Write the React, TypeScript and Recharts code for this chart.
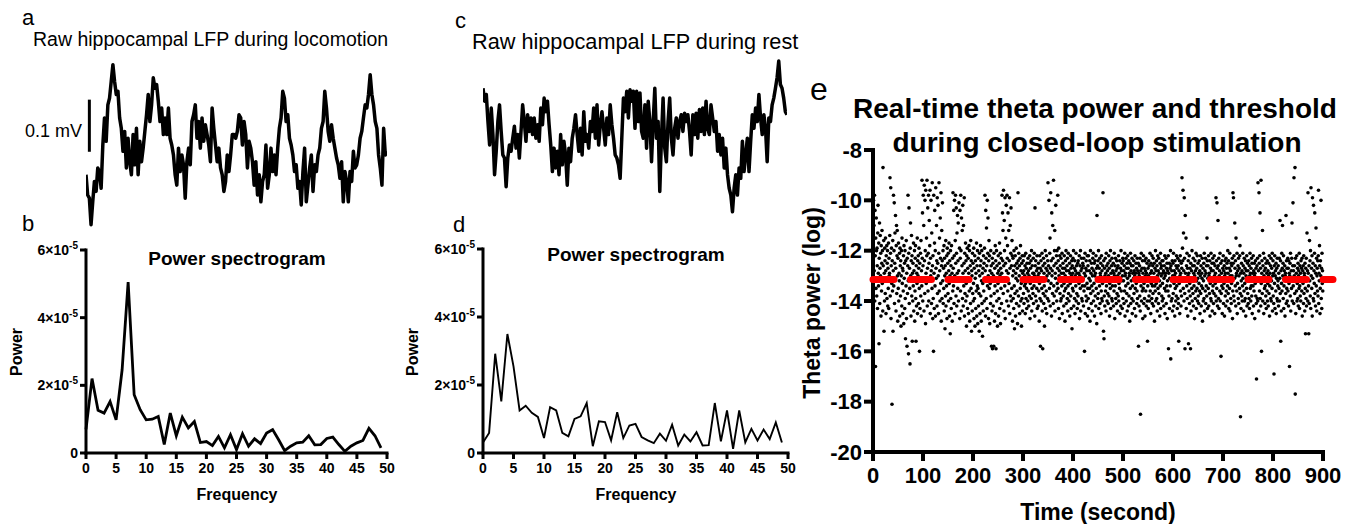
import React from "react";
import { LineChart, Line, XAxis, YAxis, ScatterChart, Scatter, ReferenceLine } from "recharts";

const FONT = "'Liberation Sans', Arial, Helvetica, sans-serif";

// Panel a / c: raw LFP traces (microvolts, relative), one value per sample
const lfpLocomotionUv = [
  58, 19, 13, -38, 6, 45, 26, 71, 64, 32,
  115, 167, 122, 192, 205, 237, 269, 237, 212, 218,
  167, 147, 103, 141, 71, 128, 83, 58, 135, 77,
  147, 58, 122, 83, 109, 141, 173, 212, 160, 192,
  244, 224, 231, 199, 160, 186, 135, 167, 135, 186,
  128, 115, 96, 58, 38, 109, 64, 96, 77, 13,
  83, 109, 77, 160, 173, 192, 128, 160, 109, 167,
  122, 154, 135, 115, 83, 186, 147, 115, 83, 109,
  71, 58, 26, 45, 96, 64, 96, 135, 135, 128, 141,
  173, 167, 115, 160, 135, 71, 122, 109, 83, 38,
  83, 19, 58, 6, 45, 58, 115, 32, 58, 109,
  64, 96, 58, 109, 147, 167, 218, 205, 160, 173,
  128, 115, 96, 64, 77, 32, 45, 0, 64, 109,
  6, 38, 71, 96, 26, 77, 64, 96, 109, 147,
  160, 218, 186, 141, 122, 154, 128, 109, 90, 77,
  51, 83, 6, 64, 45, 6, 64, 45, 103, 71,
  77, 96, 128, 141, 167, 192, 186, 212, 250, 212,
  192, 160, 147, 96, 71, 38, 147, 96, 103,
];

const lfpRestUv = [
  224, 199, 212, 160, 115, 186, 135, 58, 103, 160,
  192, 141, 96, 90, 35, 90, 115, 103, 128, 151,
  109, 135, 90, 141, 192, 160, 122, 173, 141, 167,
  135, 167, 128, 154, 122, 186, 154, 205, 179, 199,
  154, 115, 64, 109, 71, 103, 58, 135, 77, 122,
  96, 38, 109, 83, 128, 147, 173, 135, 103, 147,
  96, 179, 122, 135, 109, 160, 141, 186, 128, 192,
  115, 154, 179, 147, 115, 167, 135, 192, 154, 128,
  96, 90, 77, 51, 128, 205, 179, 218, 167, 221,
  199, 218, 147,
  218, 160, 215, 141, 128, 192, 109, 199, 160, 83,
  160, 224, 128, 160, 26, 128, 205, 109, 83, 160,
  205, 128, 96, 147, 167, 128, 160, 173, 141, 176,
  160, 173, 141, 96, 173, 135, 176, 128, 183, 141,
  186, 135, 199, 147, 135, 192, 167, 141, 160, 103,
  135, 96, 128, 71, 109, 58, 32, 19, -13, 32,
  58, 19, 71, 51, 122, 64, 96, 128, 64, 122,
  173, 147, 186, 160, 212, 167, 135, 173, 147, 83,
  167, 160, 192, 205, 224, 244, 276, 231, 224, 205,
  179, 173,
];

// Panel b / d: power spectra (units of 1e-5)
const frequencyHz = [
  0, 1, 2, 3, 4, 5, 6, 7, 8, 9, 10, 11, 12, 13, 14, 15, 16, 17, 18, 19, 20, 21, 22, 23, 24,
  25, 26, 27, 28, 29, 30, 31, 32, 33, 34, 35, 36, 37, 38, 39, 40, 41, 42, 43, 44, 45, 46, 47, 48, 49,
];
const powerLocomotionE5 = [
  0.7, 2.2, 1.26, 1.18, 1.52, 0.98, 2.46, 5.05, 1.72, 1.28,
  0.98, 1.0, 1.08, 0.25, 1.18, 0.51, 1.06, 0.74, 0.93, 0.31,
  0.34, 0.22, 0.49, 0.15, 0.54, 0.1, 0.57, 0.2, 0.42, 0.28,
  0.59, 0.69, 0.39, 0.07, 0.2, 0.3, 0.32, 0.51, 0.24, 0.25,
  0.43, 0.47, 0.25, 0.05, 0.2, 0.3, 0.37, 0.73, 0.51, 0.15,
];
const powerRestE5 = [
  0.31, 0.59, 2.92, 1.52, 3.5, 2.55, 1.25, 1.39, 1.18, 1.06,
  0.44, 1.35, 1.25, 0.59, 0.49, 1.0, 1.08, 1.47, 0.2, 0.93,
  0.91, 0.37, 1.2, 0.44, 0.81, 0.86, 0.47, 0.37, 0.29, 0.57,
  0.36, 0.83, 0.22, 0.54, 0.34, 0.61, 0.22, 0.23, 1.47, 0.34,
  1.25, 0.12, 1.25, 0.31, 0.71, 0.37, 0.69, 0.41, 0.9, 0.31,
];
const frequencyTicks = [0, 5, 10, 15, 20, 25, 30, 35, 40, 45, 50];
const powerTicksE5 = [0, 2, 4, 6];

// Panel e: real-time theta power (log), one sample every 0.5 s
const thetaSampleIntervalSec = 0.5;
const thetaPowerLog = [
  -9.6,-12.4,-10.0,-13.1,-11.0,-12.8,-9.8,-14.0,-10.4,-12.2,-16.6,-11.5,-13.5,-10.7,-12.0,-13.8,-11.9,-12.6,-14.3,-11.3,
  -10.2,-12.9,-13.4,-11.7,-15.7,-12.3,-10.9,-14.1,-12.7,-11.4,-13.0,-12.1,-14.6,-11.8,-13.6,-12.5,-11.2,-13.3,-12.0,-14.4,
  -8.7,-12.6,-13.2,-11.6,-15.2,-12.9,-14.0,-11.9,-12.4,-13.7,-11.5,-12.8,-14.5,-12.2,-13.1,-11.8,-13.9,-12.5,-12.0,-14.2,
  -12.7,-13.5,-11.7,-14.3,-12.3,-13.0,-12.9,-11.4,-9.1,-13.8,-12.1,-9.5,-14.7,-12.6,-11.9,-13.3,-18.1,-12.4,-13.6,-11.6,
  -15.2,-12.8,-9.8,-13.4,-12.0,-10.1,-14.1,-12.5,-11.3,-13.1,-10.6,-12.7,-14.4,-11.8,-11.0,-13.7,-12.2,-11.2,-13.0,-14.8,
  -12.3,-13.5,-11.7,-14.0,-12.9,-13.2,-12.1,-14.6,-11.9,-12.6,-13.8,-12.4,-15.0,-13.0,-12.0,-14.2,-11.5,-13.3,-12.7,-14.5,
  -12.8,-13.6,-12.2,-14.9,-11.8,-13.1,-12.5,-14.3,-12.0,-13.9,-15.5,-12.4,-13.4,-11.6,-14.7,-12.9,-15.8,-12.3,-13.7,-12.6,
  -9.8,-13.2,-16.1,-12.1,-10.3,-14.1,-12.7,-13.5,-16.5,-11.9,-10.9,-13.0,-14.6,-12.4,-11.4,-13.8,-12.2,-15.6,-12.9,-14.0,
  -12.5,-13.4,-11.7,-14.4,-12.8,-13.1,-12.0,-14.8,-13.6,-12.3,-11.8,-13.9,-15.6,-12.6,-14.2,-12.9,-13.3,-11.5,-14.5,-12.4,
  -13.0,-12.2,-14.1,-12.7,-11.9,-13.5,-16.0,-12.5,-14.3,-13.2,-12.1,-13.8,-11.6,-14.6,-12.8,-13.4,-9.2,-12.3,-10.5,-14.0,
  -12.6,-9.8,-13.1,-11.0,-14.4,-9.4,-12.4,-13.7,-10.0,-12.0,-14.9,-9.6,-12.9,-13.3,-11.5,-12.2,-9.2,-14.2,-12.7,-10.3,
  -13.6,-12.1,-9.8,-14.0,-12.5,-10.8,-13.2,-11.8,-9.6,-14.5,-12.3,-13.0,-10.0,-12.8,-14.1,-11.3,-13.5,-9.3,-12.6,-14.7,
  -12.2,-13.9,-16.0,-9.8,-12.9,-14.3,-11.7,-10.4,-13.4,-12.0,-14.6,-9.5,-12.7,-13.1,-11.0,-12.4,-14.2,-9.9,-13.7,-12.5,
  -10.2,-13.0,-14.5,-12.1,-9.3,-13.6,-11.5,-12.8,-14.0,-10.7,-12.3,-13.3,-9.7,-14.8,-12.6,-11.2,-13.9,-12.4,-10.1,-13.2,
  -12.0,-14.1,-12.7,-13.5,-11.8,-14.4,-12.3,-13.0,-15.1,-12.6,-13.8,-11.6,-14.2,-12.9,-13.4,-12.2,-14.7,-11.9,-13.1,-12.5,
  -13.7,-12.1,-14.0,-12.8,-11.7,-13.3,-14.6,-12.4,-13.0,-15.3,-12.0,-13.9,-12.6,-14.3,-11.8,-13.2,-12.9,-14.8,-12.3,-13.6,
  -9.7,-12.7,-13.4,-10.4,-14.1,-12.2,-10.0,-13.0,-14.5,-11.6,-9.8,-12.5,-13.8,-10.3,-12.1,-14.2,-11.3,-12.9,-10.6,-13.5,
  -12.4,-10.9,-14.0,-12.8,-10.1,-13.1,-11.9,-14.7,-10.4,-12.3,-13.6,-9.8,-12.0,-14.4,-10.7,-13.2,-12.6,-11.2,-13.9,-10.2,
  -12.9,-14.2,-11.0,-13.4,-12.5,-9.9,-14.6,-12.1,-13.7,-12.8,-11.7,-14.0,-12.4,-13.3,-15.0,-12.2,-13.8,-11.9,-14.3,-12.7,
  -13.1,-12.3,-14.5,-12.9,-11.8,-13.6,-12.0,-14.8,-13.2,-12.6,-14.1,-11.6,-13.5,-12.4,-15.2,-12.8,-13.0,-14.4,-12.1,-13.7,
  -12.5,-14.0,-13.3,-11.9,-14.7,-12.7,-13.9,-12.2,-15.0,-13.1,-12.4,-14.3,-12.9,-13.6,-11.7,-14.6,-12.6,-13.4,-12.0,-14.9,
  -13.5,-12.3,-14.2,-12.8,-13.7,-15.2,-12.1,-13.0,-14.5,-12.6,-11.8,-13.8,-12.4,-14.8,-13.2,-12.0,-14.1,-12.9,-15.4,-13.3,
  -12.7,-14.4,-12.2,-13.6,-12.5,-14.0,-11.9,-13.1,-9.8,-12.8,-14.6,-10.4,-12.3,-13.9,-11.1,-12.6,-14.3,-10.0,-13.4,-12.1,
  -10.7,-13.0,-14.7,-12.4,-11.6,-13.5,-12.2,-14.9,-12.8,-13.3,-14.1,-12.0,-13.8,-12.6,-15.8,-12.9,-14.4,-12.3,-15.9,-13.2,
  -12.5,-14.2,-13.0,-15.8,-12.1,-13.7,-14.8,-12.7,-13.4,-11.8,-14.5,-12.4,-15.9,-13.1,-12.0,-14.0,-12.6,-13.6,-15.0,-12.9,
  -13.3,-12.2,-14.6,-12.8,-13.9,-12.5,-11.7,-14.3,-13.0,-12.1,-14.9,-12.7,-13.5,-12.3,-14.1,-12.9,-9.8,-13.2,-10.5,-12.4,
  -11.2,-13.7,-9.6,-12.6,-14.4,-10.8,-12.0,-13.4,-9.9,-14.7,-12.5,-11.5,-13.1,-10.2,-12.8,-14.0,-9.8,-12.3,-11.8,-13.6,
  -10.5,-12.9,-14.2,-11.2,-13.3,-12.4,-9.9,-14.5,-12.7,-11.0,-13.8,-12.1,-10.3,-14.0,-12.6,-13.5,-11.6,-12.2,-14.8,-13.0,
  -12.3,-13.9,-12.8,-14.3,-12.0,-13.4,-15.1,-12.6,-13.7,-12.2,-14.6,-12.9,-13.1,-11.9,-14.1,-12.5,-13.6,-12.7,-14.9,-13.2,
  -9.7,-12.4,-13.8,-12.1,-14.2,-13.0,-12.6,-14.5,-12.3,-13.5,-11.8,-14.0,-12.8,-13.3,-15.0,-12.5,-13.9,-12.2,-14.4,-12.9,
  -13.1,-12.4,-13.7,-12.8,-14.1,-12.2,-13.4,-13.0,-12.6,-14.5,-13.3,-12.1,-13.9,-12.7,-13.5,-14.3,-12.5,-13.2,-12.9,-14.0,
  -12.3,-13.6,-12.8,-14.2,-13.0,-12.5,-13.8,-12.2,-14.7,-13.3,-12.7,-13.1,-12.4,-13.9,-12.0,-14.4,-13.5,-12.6,-13.2,-12.9,
  -13.7,-12.3,-14.1,-12.9,-13.4,-12.1,-13.0,-14.6,-10.3,-12.6,-13.8,-12.4,-13.2,-14.0,-12.8,-13.5,-12.2,-14.3,-13.1,-12.7,
  -13.0,-14.2,-12.5,-13.6,-12.9,-14.8,-13.3,-12.2,-13.9,-12.7,-15.8,-13.1,-12.4,-14.0,-12.8,-13.5,-12.1,-14.4,-13.2,-15.9,
  -12.6,-13.7,-12.3,-14.1,-12.9,-13.4,-15.0,-12.5,-13.8,-12.0,-14.3,-13.1,-12.7,-13.6,-12.2,-14.5,-13.0,-12.8,-13.9,-12.4,
  -9.3,-13.2,-12.6,-14.0,-10.0,-12.9,-13.5,-12.1,-11.5,-14.2,-12.7,-9.7,-13.3,-12.4,-14.6,-10.5,-13.0,-12.8,-13.7,-11.0,
  -12.3,-14.1,-9.2,-13.4,-12.6,-13.8,-12.0,-11.2,-14.4,-12.9,-13.1,-10.2,-12.5,-13.6,-12.2,-14.0,-12.0,-13.3,-12.7,-9.8,
  -13.5,-12.4,-14.3,-11.9,-13.0,-12.8,-14.7,-12.2,-13.7,-12.6,-13.2,-14.0,-12.3,-13.9,-12.9,-13.4,-12.1,-14.5,-13.1,-12.7,
  -12.5,-13.8,-12.9,-14.2,-13.3,-12.2,-13.6,-12.7,-14.8,-13.0,-12.4,-13.5,-12.0,-14.1,-12.8,-13.2,-12.6,-13.9,-12.3,-14.4,
  -13.4,-12.1,-13.7,-12.8,-14.0,-13.1,-12.5,-14.6,-12.9,-13.3,-12.2,-13.8,-12.7,-14.3,-13.0,-12.4,-15.1,-12.6,-13.5,-12.9,
  -12.3,-13.6,-12.0,-14.2,-13.2,-12.7,-13.9,-12.4,-14.5,-13.0,-12.8,-13.4,-12.1,-14.0,-12.6,-13.7,-12.9,-14.3,-13.1,-12.5,
  -13.8,-12.4,-14.1,-12.9,-13.3,-12.2,-14.7,-13.0,-12.6,-13.5,-12.0,-14.4,-12.8,-13.2,-12.3,-13.9,-12.7,-14.0,-13.4,-12.5,
  -13.1,-12.6,-14.2,-12.3,-13.6,-12.9,-16.0,-13.4,-12.1,-14.5,-13.0,-12.7,-13.8,-12.4,-14.0,-12.8,-13.3,-12.2,-14.6,-13.5,
  -12.6,-13.9,-12.2,-14.3,-13.1,-12.8,-13.5,-12.4,-14.8,-13.2,-12.0,-13.7,-12.9,-14.1,-12.5,-13.4,-12.7,-14.4,-13.0,-12.3,
  -13.6,-12.1,-14.0,-12.8,-13.3,-12.5,-14.6,-13.0,-12.4,-13.8,-12.9,-14.2,-12.2,-13.5,-12.7,-14.9,-10.6,-13.1,-12.6,-13.9,
  -12.4,-13.7,-12.0,-14.3,-13.2,-12.7,-13.4,-12.3,-14.1,-12.9,-13.0,-12.5,-14.5,-13.6,-12.2,-13.9,-12.8,-14.0,-13.3,-12.6,
  -9.7,-13.1,-15.2,-12.4,-15.5,-13.8,-12.7,-14.2,-13.0,-12.3,-13.6,-12.9,-14.4,-12.1,-13.4,-12.6,-14.0,-13.2,-12.8,-13.7,
  -12.5,-14.1,-13.0,-12.2,-13.8,-12.7,-14.6,-13.3,-12.4,-13.5,-12.0,-14.3,-12.9,-13.1,-12.6,-13.9,-12.3,-14.0,-13.4,-12.8,
  -13.2,-12.5,-14.2,-12.9,-13.6,-12.1,-13.0,-14.7,-12.6,-13.4,-12.3,-13.9,-12.8,-14.1,-13.1,-12.4,-13.7,-12.7,-14.4,-13.0,
  -12.6,-13.8,-12.2,-14.0,-13.3,-12.9,-13.5,-12.4,-14.5,-13.1,-12.7,-14.2,-12.0,-13.6,-12.8,-13.2,-12.5,-14.3,-13.0,-12.3,
  -13.9,-12.4,-13.2,-12.8,-14.1,-12.6,-13.6,-12.1,-14.6,-13.0,-12.9,-13.4,-12.3,-14.0,-12.7,-13.7,-12.5,-14.4,-13.1,-12.2,
  -13.3,-12.7,-14.2,-12.4,-13.8,-12.9,-13.0,-14.8,-12.5,-13.5,-12.1,-14.1,-12.8,-13.2,-12.6,-13.9,-12.3,-14.5,-13.4,-12.9,
  -12.6,-14.0,-13.1,-12.4,-13.7,-12.8,-14.3,-13.0,-12.2,-13.5,-12.9,-14.6,-12.5,-13.3,-12.7,-14.1,-13.6,-12.3,-13.9,-12.8,
  -13.2,-12.5,-15.8,-12.9,-14.2,-13.0,-12.6,-13.8,-12.3,-14.4,-18.5,-12.8,-13.4,-12.1,-14.0,-13.1,-12.7,-13.6,-12.4,-14.7,
  -12.9,-13.5,-12.2,-14.1,-13.3,-12.7,-13.9,-12.4,-14.6,-13.0,-12.8,-13.6,-12.3,-14.2,-12.9,-13.1,-12.5,-14.0,-15.6,-13.4,
  -12.7,-14.3,-13.0,-12.4,-13.8,-12.6,-14.0,-13.2,-12.1,-13.6,-12.9,-14.5,-12.5,-13.3,-12.8,-13.9,-12.2,-14.1,-13.4,-12.6,
  -13.7,-12.3,-14.2,-12.9,-13.1,-12.5,-14.8,-13.4,-12.7,-13.6,-12.0,-14.0,-12.8,-13.3,-12.4,-13.9,-12.6,-14.4,-13.0,-12.2,
  -13.5,-12.8,-14.1,-12.3,-13.7,-12.9,-13.2,-14.6,-12.5,-13.4,-12.1,-14.3,-12.7,-13.0,-12.6,-13.8,-12.4,-14.0,-13.3,-12.9,
  -12.4,-13.9,-12.8,-14.2,-13.1,-12.6,-13.5,-12.2,-14.5,-13.0,-12.9,-13.6,-12.3,-14.1,-12.7,-13.4,-12.5,-14.7,-13.2,-12.8,
  -13.6,-12.2,-15.9,-12.9,-13.8,-12.5,-14.3,-13.1,-12.7,-13.4,-12.0,-16.3,-12.6,-14.0,-13.2,-12.8,-13.9,-12.4,-14.4,-13.0,
  -12.5,-13.7,-12.1,-14.2,-13.3,-12.8,-13.0,-14.6,-12.4,-13.5,-12.9,-14.0,-12.6,-13.8,-12.2,-13.4,-12.7,-14.3,-13.1,-12.3,
  -13.9,-12.6,-14.1,-15.6,-12.8,-13.3,-12.4,-14.5,-13.0,-12.2,-13.6,-12.9,-14.2,-12.5,-13.8,-12.7,-9.1,-13.2,-11.9,-12.4,
  -9.6,-13.5,-11.3,-12.8,-14.0,-9.9,-12.3,-13.7,-15.9,-10.6,-12.9,-13.1,-11.5,-14.3,-12.6,-13.4,-12.1,-13.9,-12.7,-14.6,
  -13.0,-12.4,-15.7,-12.9,-13.6,-12.2,-14.1,-13.3,-12.7,-13.8,-15.9,-12.5,-14.4,-13.1,-12.8,-13.5,-12.0,-14.0,-13.2,-12.6,
  -13.7,-12.3,-14.2,-12.9,-13.4,-12.6,-14.7,-13.0,-12.4,-13.9,-12.8,-13.6,-12.1,-14.3,-13.2,-12.7,-13.5,-12.2,-14.0,-13.1,
  -12.5,-13.8,-12.9,-14.1,-13.3,-12.4,-13.6,-12.8,-14.5,-13.0,-12.2,-13.7,-12.6,-14.2,-13.4,-12.9,-13.1,-12.3,-14.8,-13.5,
  -12.7,-14.0,-13.2,-12.5,-13.9,-12.1,-14.4,-13.0,-12.8,-13.6,-12.3,-14.1,-12.9,-13.4,-12.6,-13.8,-11.5,-12.4,-14.3,-13.1,
  -12.6,-13.5,-12.2,-14.2,-13.0,-12.9,-13.7,-12.4,-14.6,-13.3,-12.7,-13.9,-12.1,-14.0,-12.8,-13.2,-12.5,-14.4,-13.6,-12.3,
  -13.4,-12.8,-14.1,-12.5,-13.7,-12.2,-13.0,-14.5,-12.6,-13.3,-12.9,-13.8,-9.9,-14.0,-12.4,-13.5,-10.1,-12.7,-14.2,-13.1,
  -10.8,-12.6,-13.9,-12.3,-14.3,-13.0,-12.8,-13.6,-12.1,-14.0,-13.2,-12.5,-16.2,-13.7,-12.9,-13.4,-12.4,-14.5,-13.1,-12.7,
  -13.5,-12.2,-14.1,-12.8,-13.3,-12.6,-14.6,-13.0,-12.4,-13.8,-12.9,-14.2,-12.3,-13.6,-12.7,-13.1,-12.5,-14.0,-13.4,-12.0,
  -12.9,-13.7,-12.4,-14.3,-13.2,-12.7,-13.5,-12.1,-14.4,-13.0,-12.8,-13.9,-12.5,-14.1,-13.3,-12.6,-13.0,-12.3,-14.7,-13.6,
  -9.7,-12.5,-9.9,-13.8,-12.2,-14.0,-13.1,-10.9,-12.7,-13.4,-12.4,-14.2,-11.5,-13.0,-12.9,-13.6,-12.1,-14.5,-13.3,-12.8,
  -12.6,-13.9,-12.3,-14.1,-13.0,-12.7,-13.5,-12.2,-11.8,-13.7,-18.6,-12.9,-14.3,-13.2,-12.5,-13.8,-12.8,-14.0,-13.4,-12.1,
  -13.1,-12.6,-14.4,-12.9,-13.6,-12.3,-14.0,-13.3,-12.7,-13.9,-12.4,-14.6,-13.0,-12.8,-13.5,-12.2,-14.2,-13.2,-12.5,-13.7,
  -12.8,-14.1,-13.2,-12.4,-13.9,-12.6,-14.3,-13.0,-12.1,-13.5,-12.9,-14.0,-12.7,-13.4,-12.3,-13.8,-12.5,-14.5,-13.1,-12.9,
  -13.4,-12.2,-14.2,-12.8,-13.6,-12.5,-13.0,-14.7,-12.9,-13.3,-12.4,-13.8,-12.7,-14.1,-17.1,-13.2,-12.6,-13.9,-12.3,-14.0,
  -9.3,-13.1,-12.8,-14.4,-9.7,-12.5,-13.6,-12.2,-10.5,-13.9,-12.7,-14.2,-9.2,-13.3,-16.0,-12.9,-12.4,-13.7,-11.2,-14.0,
  -12.6,-13.2,-12.1,-14.5,-13.0,-12.8,-13.5,-12.3,-14.1,-13.4,-12.7,-13.8,-12.5,-14.3,-13.1,-12.9,-13.6,-12.4,-14.0,-13.3,
  -12.8,-14.2,-13.0,-12.5,-13.7,-12.2,-14.6,-13.4,-12.9,-13.1,-12.6,-13.9,-12.3,-14.0,-13.2,-12.7,-13.5,-12.1,-14.4,-13.0,
  -12.4,-13.8,-12.9,-14.1,-16.9,-12.6,-13.3,-12.2,-14.3,-13.0,-12.8,-13.6,-12.5,-14.5,-13.1,-12.7,-13.9,-12.3,-14.0,-13.4,
  -13.2,-12.6,-14.2,-12.9,-13.5,-12.3,-14.0,-13.1,-10.8,-13.7,-12.4,-15.6,-12.8,-14.4,-13.3,-12.1,-13.6,-12.7,-11.0,-13.0,
  -12.5,-13.9,-12.2,-14.3,-13.4,-12.8,-13.1,-12.6,-14.6,-13.0,-12.9,-13.7,-10.6,-14.1,-12.4,-13.5,-12.7,-14.0,-13.2,-12.3,
  -13.6,-12.7,-14.2,-12.4,-13.3,-12.9,-16.6,-13.0,-12.5,-13.8,-12.1,-14.4,-13.2,-12.8,-13.5,-12.3,-10.9,-14.0,-13.1,-12.6,
  -10.1,-13.4,-12.8,-14.1,-9.1,-13.0,-12.6,-13.7,-8.7,-17.7,-12.3,-14.5,-13.2,-12.9,-13.6,-12.2,-14.0,-13.3,-12.7,-13.9,
  -12.5,-14.2,-13.0,-12.8,-13.5,-12.1,-14.3,-13.4,-12.6,-13.8,-12.9,-14.0,-12.4,-13.2,-12.7,-13.6,-12.3,-14.6,-13.1,-12.8,
  -13.3,-12.6,-14.1,-12.2,-13.7,-12.9,-13.0,-14.4,-12.5,-13.5,-15.3,-12.7,-13.9,-12.3,-14.2,-13.1,-11.3,-13.6,-12.8,-14.0,
  -9.7,-12.9,-13.4,-15.3,-12.6,-14.1,-11.6,-13.2,-12.4,-13.8,-12.0,-14.3,-9.5,-13.0,-12.7,-13.5,-12.2,-14.6,-9.9,-13.1,
  -12.5,-13.9,-10.2,-14.0,-12.8,-13.3,-12.1,-10.5,-13.7,-12.6,-14.2,-12.9,-11.1,-13.4,-12.3,-14.4,-13.0,-12.7,-13.6,-12.4,
  -13.8,-12.2,-9.6,-14.1,-12.9,-13.2,-11.8,-12.6,-14.5,-13.5,-12.4,-13.0,-10.0,-13.9,-12.7,-14.3,-12.1,-13.3,-12.8,-13.6,
];
const thetaThresholdLog = -13.15;
const thresholdEndSec = 920;
const timeTicksSec = [0, 100, 200, 300, 400, 500, 600, 700, 800, 900];
const thetaTicksLog = [-20, -18, -16, -14, -12, -10, -8];

const PowerTick = (props: any) => {
  const { x, y, payload } = props;
  const v = payload.value as number;
  return (
    <text x={x} y={y} dy={5} textAnchor="end" fill="#000" fontSize={14} fontWeight="bold" fontFamily={FONT}>
      {v === 0 ? (
        "0"
      ) : (
        <>
          {v}×10<tspan dy={-6} fontSize={10}>-5</tspan>
        </>
      )}
    </text>
  );
};

const ScatterDot = (p: any) => <circle cx={p.cx} cy={p.cy} r={1.8} fill="#000" />;

const spectrumAxisLine = { stroke: "#000", strokeWidth: 3, strokeLinecap: "square" as const };
const spectrumTick = { fill: "#000", fontSize: 14, fontWeight: "bold", fontFamily: FONT };

function Spectrum({ data, width, height, rightMargin, lineWidth }: any) {
  return (
    <LineChart width={width} height={height} data={data} margin={{ top: 20, right: rightMargin, bottom: 0, left: 0 }}>
      <XAxis
        type="number"
        dataKey="f"
        domain={[0, 50]}
        ticks={frequencyTicks}
        interval={0}
        height={67}
        tickSize={6}
        tickMargin={4}
        axisLine={spectrumAxisLine}
        tickLine={{ stroke: "#000", strokeWidth: 3 }}
        tick={spectrumTick}
      />
      <YAxis
        type="number"
        domain={[0, 6]}
        ticks={powerTicksE5}
        interval={0}
        width={86}
        tickSize={6}
        tickMargin={2}
        axisLine={spectrumAxisLine}
        tickLine={{ stroke: "#000", strokeWidth: 3 }}
        tick={<PowerTick />}
      />
      <Line type="linear" dataKey="p" stroke="#000" strokeWidth={lineWidth} dot={false} isAnimationActive={false} />
    </LineChart>
  );
}

export default function App() {
  const locoData = lfpLocomotionUv.map((v, i) => ({ i, v }));
  const restData = lfpRestUv.map((v, i) => ({ i, v }));
  const specLoco = frequencyHz.map((f, k) => ({ f, p: powerLocomotionE5[k] }));
  const specRest = frequencyHz.map((f, k) => ({ f, p: powerRestE5[k] }));
  const thetaData = thetaPowerLog.map((p, k) => ({ t: k * thetaSampleIntervalSec, p }));

  const bold = { fontFamily: FONT, fontWeight: "bold" as const, fill: "#000" };
  const reg = { fontFamily: FONT, fill: "#000" };

  return (
    <div style={{ position: "absolute", left: 0, top: 0, width: 1350, height: 524, background: "#fff", overflow: "hidden" }}>
      {/* a: raw LFP locomotion */}
      <div style={{ position: "absolute", left: 86, top: 59 }}>
        <LineChart width={301} height={172} data={locoData} margin={{ top: 0, right: 0, bottom: 0, left: 0 }}>
          <XAxis hide type="number" dataKey="i" domain={[0, locoData.length - 1]} />
          <YAxis hide type="number" domain={[-50, 280]} />
          <ReferenceLine segment={[{ x: 2, y: 102 }, { x: 2, y: 202 }]} stroke="#000" strokeWidth={3} ifOverflow="visible" />
          <Line type="linear" dataKey="v" stroke="#000" strokeWidth={3.5} strokeLinejoin="round" dot={false} isAnimationActive={false} />
        </LineChart>
      </div>
      {/* c: raw LFP rest */}
      <div style={{ position: "absolute", left: 483, top: 59 }}>
        <LineChart width={304} height={172} data={restData} margin={{ top: 0, right: 0, bottom: 0, left: 0 }}>
          <XAxis hide type="number" dataKey="i" domain={[0, restData.length - 1]} />
          <YAxis hide type="number" domain={[-50, 280]} />
          <Line type="linear" dataKey="v" stroke="#000" strokeWidth={3.5} strokeLinejoin="round" dot={false} isAnimationActive={false} />
        </LineChart>
      </div>
      {/* b: spectrum locomotion */}
      <div style={{ position: "absolute", left: 0, top: 230 }}>
        <Spectrum data={specLoco} width={410} height={290} rightMargin={23} lineWidth={2.8} />
      </div>
      {/* d: spectrum rest */}
      <div style={{ position: "absolute", left: 397, top: 229 }}>
        <Spectrum data={specRest} width={410} height={291} rightMargin={19} lineWidth={1.9} />
      </div>
      {/* e: theta power scatter */}
      <div style={{ position: "absolute", left: 790, top: 120 }}>
        <ScatterChart width={560} height={404} margin={{ top: 30, right: 27, bottom: 0, left: 0 }}>
          <XAxis
            type="number"
            dataKey="t"
            domain={[0, 900]}
            ticks={timeTicksSec}
            interval={0}
            height={72}
            tickSize={9}
            tickMargin={6}
            axisLine={{ stroke: "#000", strokeWidth: 4, strokeLinecap: "square" }}
            tickLine={{ stroke: "#000", strokeWidth: 4 }}
            tick={{ fill: "#000", fontSize: 22, fontWeight: "bold", fontFamily: FONT }}
          />
          <YAxis
            type="number"
            dataKey="p"
            domain={[-20, -8]}
            ticks={thetaTicksLog}
            interval={0}
            width={83}
            tickSize={9}
            tickMargin={2}
            axisLine={{ stroke: "#000", strokeWidth: 4, strokeLinecap: "square" }}
            tickLine={{ stroke: "#000", strokeWidth: 4 }}
            tick={{ fill: "#000", fontSize: 22, fontWeight: "bold", fontFamily: FONT }}
          />
          <Scatter data={thetaData} fill="#000" shape={ScatterDot} isAnimationActive={false} />
          <ReferenceLine
            segment={[{ x: 0, y: thetaThresholdLog }, { x: thresholdEndSec, y: thetaThresholdLog }]}
            stroke="#ff0000"
            strokeWidth={7}
            strokeDasharray="21 16.5"
            strokeLinecap="round"
            ifOverflow="visible"
            zIndex={700}
          />
        </ScatterChart>
      </div>
      {/* text overlay */}
      <svg width={1350} height={524} style={{ position: "absolute", left: 0, top: 0, pointerEvents: "none" }}>
        <text x={22} y={25} fontSize={22} {...reg}>a</text>
        <text x={33} y={46} fontSize={19.5} {...reg}>Raw hippocampal LFP during locomotion</text>
        <text x={82} y={137} fontSize={18} textAnchor="end" {...reg}>0.1 mV</text>
        <text x={22} y={231} fontSize={22} {...reg}>b</text>
        <text x={455} y={28} fontSize={22} {...reg}>c</text>
        <text x={472} y={49} fontSize={21.7} {...reg}>Raw hippocampal LFP during rest</text>
        <text x={453} y={232} fontSize={22} {...reg}>d</text>
        <text x={237} y={265} fontSize={19} textAnchor="middle" {...bold}>Power spectrogram</text>
        <text x={636} y={261} fontSize={19} textAnchor="middle" {...bold}>Power spectrogram</text>
        <text transform="translate(22,352) rotate(-90)" fontSize={16} textAnchor="middle" {...bold}>Power</text>
        <text transform="translate(418,352) rotate(-90)" fontSize={16} textAnchor="middle" {...bold}>Power</text>
        <text x={237} y={500} fontSize={16} textAnchor="middle" {...bold}>Frequency</text>
        <text x={636} y={500} fontSize={16} textAnchor="middle" {...bold}>Frequency</text>
        <text x={810} y={100} fontSize={32} {...reg}>e</text>
        <text x={1095} y={118} fontSize={28} textAnchor="middle" {...bold}>Real-time theta power and threshold</text>
        <text x={1097} y={152} fontSize={28} textAnchor="middle" {...bold}>during closed-loop stimulation</text>
        <text transform="translate(820,303) rotate(-90)" fontSize={23} textAnchor="middle" {...bold}>Theta power (log)</text>
        <text x={1098} y={520} fontSize={23} textAnchor="middle" {...bold}>Time (second)</text>
      </svg>
    </div>
  );
}
